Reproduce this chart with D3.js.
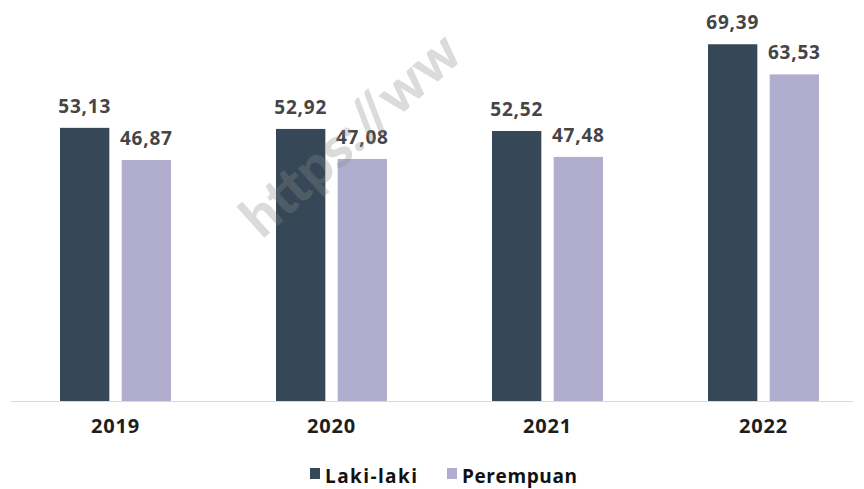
<!DOCTYPE html>
<html lang="id">
<head>
<meta charset="UTF-8">
<title>Laki-laki vs Perempuan</title>
<script src="https://d3js.org/d3.v7.min.js"></script>
<style>
  body { margin: 0; background: #fff; }
  svg text { font-family: "Open Sans", Roboto, sans-serif; font-weight: 700; }
</style>
</head>
<body>
<div id="chart"></div>
<script>
  // data
  const years = ["2019", "2020", "2021", "2022"];
  const series = ["Laki-laki", "Perempuan"];
  const lakiLaki = [53.13, 52.92, 52.52, 69.39];
  const perempuan = [46.87, 47.08, 47.48, 63.53];
  const colors = ["#364857", "#b0adcf"];

  const width = 864, height = 489;
  const baseY = 401;

  const svg = d3.select("#chart").append("svg")
      .attr("width", width)
      .attr("height", height);

  const x0 = d3.scaleBand().domain(years).range([7.5, 871.5]).padding(0);
  const x1 = d3.scaleBand().domain(series)
      .range([x0.bandwidth() / 2 - 55.5, x0.bandwidth() / 2 + 55.5])
      .paddingInner(0.2).paddingOuter(0);
  const y = d3.scaleLinear().domain([0, 78]).range([baseY, 0]);
  const color = d3.scaleOrdinal().domain(series).range(colors);

  const rows = years.map((yr, i) => ({
    year: yr,
    values: [
      { key: series[0], value: lakiLaki[i] },
      { key: series[1], value: perempuan[i] }
    ]
  }));

  const fmt = v => v.toFixed(2).replace(".", ",");

  const groups = svg.selectAll("g.grp").data(rows).join("g")
      .attr("class", "grp")
      .attr("transform", d => `translate(${x0(d.year)},0)`);

  groups.selectAll("rect").data(d => d.values).join("rect")
      .attr("x", d => x1(d.key))
      .attr("y", d => y(d.value))
      .attr("width", x1.bandwidth())
      .attr("height", d => baseY - y(d.value))
      .attr("fill", d => color(d.key));

  groups.selectAll("text.val").data(d => d.values).join("text")
      .attr("class", "val")
      .attr("x", d => x1(d.key) + x1.bandwidth() / 2)
      .attr("y", d => y(d.value) - 15)
      .attr("text-anchor", "middle")
      .attr("fill", "#454545")
      .style("font-size", "19px")
      .style("letter-spacing", "0.8px")
      .text(d => fmt(d.value));

  // baseline
  svg.append("line")
      .attr("x1", 11).attr("x2", 853)
      .attr("y1", baseY + 0.5).attr("y2", baseY + 0.5)
      .attr("stroke", "#d9d9d9").attr("stroke-width", 1.2);

  // year labels
  const xAxis = d3.axisBottom(x0).tickSize(0).tickPadding(18);
  const ax = svg.append("g").attr("transform", `translate(0,${baseY})`).call(xAxis);
  ax.select(".domain").remove();
  ax.selectAll("text")
      .attr("fill", "#1e1e1e")
      .style("font-size", "20px")
      .style("letter-spacing", "0.8px")
      .style("font-family", "\"Open Sans\", Roboto, sans-serif")
      .style("font-weight", "700");

  // legend
  const legendX = [310, 447];
  const legendSpacing = ["1.4px", "0.6px"];
  const legend = svg.append("g");
  series.forEach((s, i) => {
    legend.append("rect")
        .attr("x", legendX[i]).attr("y", 468)
        .attr("width", 10).attr("height", 11)
        .attr("fill", colors[i]);
    legend.append("text")
        .attr("x", legendX[i] + 15).attr("y", 483)
        .attr("fill", "#111")
        .style("font-size", "19px")
        .style("letter-spacing", legendSpacing[i])
        .text(s);
  });

  // watermark
  svg.append("text")
      .attr("transform", "translate(262,240) rotate(-42)")
      .attr("fill", "#8a8a8a")
      .attr("opacity", 0.3)
      .style("font-size", "56px")
      .style("font-family", "Lato, sans-serif")
      .style("font-weight", "900")
      .text("https://ww");
</script>
</body>
</html>
